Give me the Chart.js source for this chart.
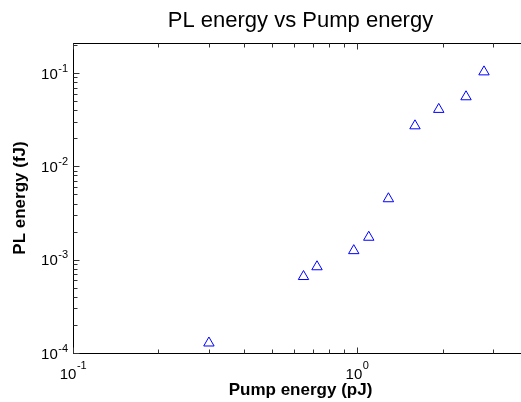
<!DOCTYPE html>
<html>
<head>
<meta charset="utf-8">
<script src="https://cdn.jsdelivr.net/npm/chart.js@4.4.0/dist/chart.umd.min.js"></script>
<style>
  html, body { margin: 0; padding: 0; background: #fff; overflow: hidden; }
  #wrap { width: 521px; height: 402px; overflow: hidden; }
</style>
</head>
<body>
<div id="wrap"><canvas id="plChart" width="591" height="402"></canvas></div>
<script>
// PL energy vs pump energy
const pumpEnergy = [0.301, 0.648, 0.723, 0.974, 1.10, 1.29, 1.60, 1.94, 2.42, 2.80];   // pJ
const plEnergy   = [1.28e-4, 6.6e-4, 8.4e-4, 1.25e-3, 1.74e-3, 4.5e-3, 0.0272, 0.0408, 0.0557, 0.103]; // fJ

const X_RANGE = [0.1, 4];
const Y_RANGE = [1e-4, 0.21];

const FONT = "'Liberation Sans', Arial, Helvetica, sans-serif";

const isDecade = v => Math.abs(Math.log10(v) - Math.round(Math.log10(v))) < 1e-9;

// 1..9 x 10^n ticks inside [min, max]
function logTicks(min, max) {
  const out = [];
  for (let e = Math.floor(Math.log10(min)); e <= Math.ceil(Math.log10(max)); e++) {
    for (let d = 1; d <= 9; d++) {
      const v = d * Math.pow(10, e);
      if (v >= min * 0.999999 && v <= max * 1.000001) out.push({ value: v });
    }
  }
  return out;
}

// "10" with a raised exponent
function powText(ctx, v, x, y, align, raise) {
  const exp = String(Math.round(Math.log10(v)));
  ctx.font = `15px ${FONT}`;
  const wb = ctx.measureText('10').width;
  ctx.font = `11px ${FONT}`;
  const we = ctx.measureText(exp).width;
  const x0 = align === 'right' ? x - wb - we : x - (wb + we) / 2;
  ctx.textAlign = 'left';
  ctx.textBaseline = 'alphabetic';
  ctx.font = `15px ${FONT}`;
  ctx.fillText('10', x0, y);
  ctx.font = `11px ${FONT}`;
  ctx.fillText(exp, x0 + wb + 0.5, y - raise);
}

// box, inward tick marks and power-of-ten labels, matlab style
const framePlugin = {
  id: 'frame',
  afterDraw(chart) {
    const { ctx, chartArea: a, scales: { x, y } } = chart;
    ctx.save();
    ctx.strokeStyle = '#000';
    ctx.lineWidth = 1;
    const L = Math.round(a.left) + 0.5, R = Math.round(a.right) + 0.5;
    const T = Math.round(a.top) + 0.5,  B = Math.round(a.bottom) + 0.5;
    ctx.strokeRect(L, T, R - L, B - T);

    ctx.strokeStyle = '#333';
    ctx.beginPath();
    x.ticks.forEach(t => {
      const px = Math.round(x.getPixelForValue(t.value)) + 0.5;
      const len = isDecade(t.value) ? 6 : 4;
      ctx.moveTo(px, B); ctx.lineTo(px, B - len);
      ctx.moveTo(px, T); ctx.lineTo(px, T + len);
    });
    y.ticks.forEach(t => {
      const py = Math.round(y.getPixelForValue(t.value)) + 0.5;
      const len = isDecade(t.value) ? 6 : 4;
      ctx.moveTo(L, py); ctx.lineTo(L + len, py);
      ctx.moveTo(R, py); ctx.lineTo(R - len, py);
    });
    ctx.stroke();

    ctx.fillStyle = '#000';
    x.ticks.filter(t => isDecade(t.value)).forEach(t => {
      powText(ctx, t.value, x.getPixelForValue(t.value), B + 25, 'center', 10);
    });
    y.ticks.filter(t => isDecade(t.value)).forEach(t => {
      powText(ctx, t.value, L - 6, y.getPixelForValue(t.value) + 5.5, 'right', 7);
    });
    ctx.restore();
  }
};

new Chart(document.getElementById('plChart'), {
  type: 'scatter',
  data: {
    datasets: [{
      label: 'PL energy',
      data: pumpEnergy.map((p, i) => ({ x: p, y: plEnergy[i] })),
      pointStyle: 'triangle',
      pointRadius: 6,
      pointHoverRadius: 6,
      borderColor: '#0000ff',
      backgroundColor: 'rgba(0,0,0,0)',
      borderWidth: 1
    }]
  },
  options: {
    responsive: false,
    animation: false,
    layout: { padding: { top: 0, left: 0, right: 63, bottom: 0 } },
    plugins: {
      legend: { display: false },
      tooltip: { enabled: false },
      title: {
        display: true,
        fullSize: false,
        text: 'PL energy vs Pump energy',
        color: '#000',
        font: { family: FONT, size: 22, weight: 'normal' },
        padding: { top: 8, bottom: 8.6 }
      }
    },
    scales: {
      x: {
        type: 'logarithmic',
        min: X_RANGE[0], max: X_RANGE[1],
        afterBuildTicks: s => { s.ticks = logTicks(X_RANGE[0], X_RANGE[1]); },
        afterFit: s => { s.height = 49; },
        grid: { display: false },
        border: { display: false },
        ticks: { display: false, autoSkip: false },
        title: {
          display: true, text: 'Pump energy (pJ)', color: '#000',
          font: { family: FONT, size: 17, weight: 'bold' },
          padding: { top: 0, bottom: 1 }
        }
      },
      y: {
        type: 'logarithmic',
        min: Y_RANGE[0], max: Y_RANGE[1],
        afterBuildTicks: s => { s.ticks = logTicks(Y_RANGE[0], Y_RANGE[1]); },
        afterFit: s => { s.width = 73; },
        grid: { display: false },
        border: { display: false },
        ticks: { display: false, autoSkip: false },
        title: {
          display: true, text: 'PL energy (fJ)', color: '#000',
          font: { family: FONT, size: 17, weight: 'bold' },
          padding: { top: 10, bottom: 0 }
        }
      }
    }
  },
  plugins: [framePlugin]
});
</script>
</body>
</html>
